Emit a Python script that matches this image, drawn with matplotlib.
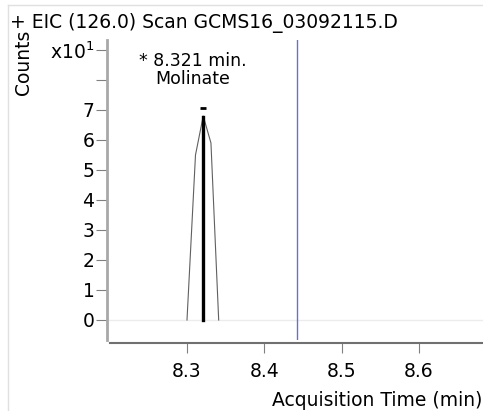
import matplotlib
matplotlib.use("Agg")
import matplotlib.pyplot as plt
from matplotlib.lines import Line2D

# Data (counts in units of x10^1)
peak_time = [8.300, 8.311, 8.321, 8.331, 8.341]
peak_counts = [0.0, 5.5, 6.8, 5.9, 0.0]
apex_time = 8.321
apex_height = 6.75
marker_line_time = 8.442
y_ticks = [0, 1, 2, 3, 4, 5, 6, 7, 8, 9]
y_tick_labels = ["0", "1", "2", "3", "4", "5", "6", "7", "", r"x10$^{1}$"]
x_ticks = [8.3, 8.4, 8.5, 8.6]
x_tick_labels = ["8.3", "8.4", "8.5", "8.6"]
title = "+ EIC (126.0) Scan GCMS16_03092115.D"
peak_label = "* 8.321 min.\nMolinate"

W, H = 483, 411
fig = plt.figure(figsize=(W / 100, H / 100), dpi=100)
plt.rcParams['font.family'] = ['DejaVu Sans']

def px(x, y):
    return x / W, 1 - y / H

ax = fig.add_axes([107 / W, (H - 340) / H, (W - 107) / W, 300 / H])
ax.set_xlim(8.1965, 8.683)
ax.set_ylim(-0.667, 9.333)

# baseline
ax.axhline(0, color="#ececec", lw=1, zorder=0)
# chromatogram
ax.plot(peak_time, peak_counts, color="#606060", lw=0.8, zorder=2)
ax.plot([apex_time, apex_time], [0, apex_height], color="black", lw=2.4, zorder=3)
ax.plot([apex_time], [7.05], marker="_", color="black", ms=4.5, mew=2.0, zorder=3)
ax.axvline(marker_line_time, color="#6b6bdc", lw=1.0, zorder=1)

ax.text(8.308, 8.33, peak_label, ha="center", va="center", fontsize=12.5,
        linespacing=1.0)

for s in ["top", "right"]:
    ax.spines[s].set_visible(False)
ax.spines["left"].set_color("#a8a8a8")
ax.spines["left"].set_linewidth(2)
ax.spines["bottom"].set_color("#707070")
ax.spines["bottom"].set_linewidth(1.5)
ax.spines["bottom"].set_position(("outward", 2.2))
ax.spines["bottom"].set_bounds(8.2004, 8.683)

ax.set_yticks(y_ticks)
ax.set_yticklabels(y_tick_labels)
ax.set_xticks(x_ticks)
ax.set_xticklabels(x_tick_labels)
ax.tick_params(axis="y", length=8, width=0.8, color="#808080", pad=1, labelsize=13.5)
ax.tick_params(axis="x", length=7.5, width=0.8, color="#808080", pad=6, labelsize=13.5)

fig.text(*px(10, 23), title, ha="left", va="center", fontsize=13.5)
fig.text(*px(24, 62), "Counts", ha="center", va="center", rotation=90, fontsize=13.5)
fig.text(*px(482, 400), "Acquisition Time (min)", ha="right", va="center", fontsize=13.5)

# light frame
fig.add_artist(Line2D([8 / W, 8 / W], [0, 1 - 5 / H], transform=fig.transFigure,
                      color="#e0e0e0", lw=1))
fig.add_artist(Line2D([8 / W, 1], [1 - 5 / H, 1 - 5 / H], transform=fig.transFigure,
                      color="#e0e0e0", lw=1))

fig.savefig("out.png", dpi=100)
